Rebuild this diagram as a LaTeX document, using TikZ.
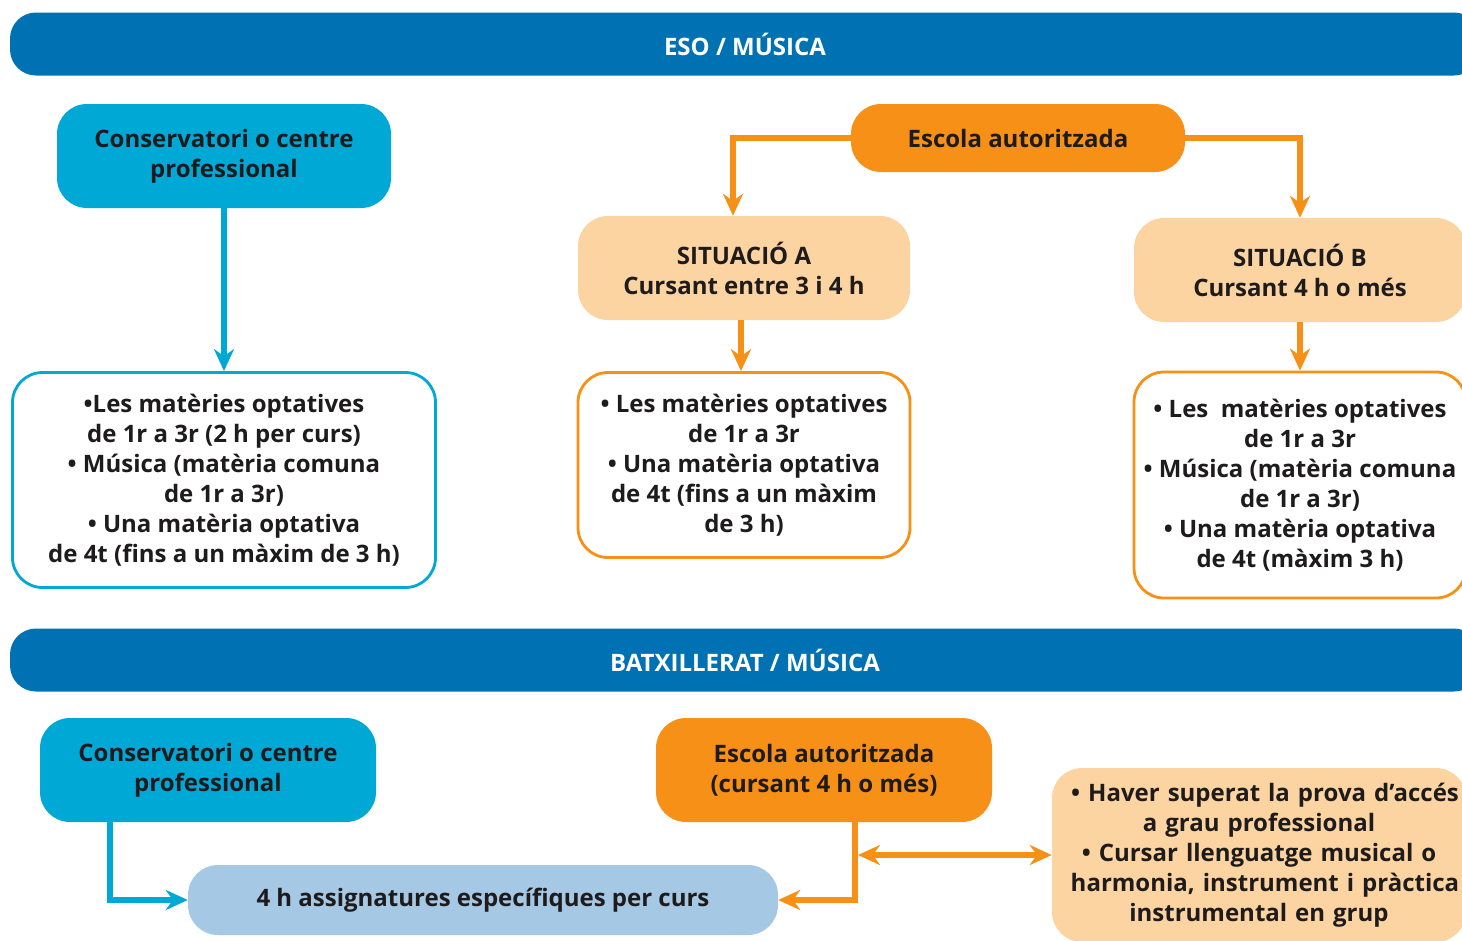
\documentclass[tikz,border=0pt]{standalone}
\usepackage{fontspec}
\setmainfont{Open Sans}
\usetikzlibrary{arrows.meta}
\usetikzlibrary{positioning}

\definecolor{bandblue}{RGB}{0,114,180}
\definecolor{consblue}{RGB}{0,168,214}
\definecolor{escorange}{RGB}{247,144,22}
\definecolor{peach}{RGB}{252,212,162}
\definecolor{paleblue}{RGB}{165,200,228}
\definecolor{ink}{RGB}{30,27,28}

\begin{document}
\begin{tikzpicture}[x=1pt,y=-1pt,
  font=\bfseries\fontsize{24}{30}\selectfont, text=ink,
  box/.style={rounded corners=30pt, align=center, inner sep=0pt},
  band/.style={box, fill=bandblue, text=white, rounded corners=26pt, minimum height=63pt, minimum width=1470pt},
  cons/.style={box, fill=consblue, minimum width=334pt, minimum height=104pt},
  esc/.style={box, fill=escorange},
  sit/.style={box, fill=peach, minimum width=332pt, minimum height=104pt},
  listbox/.style={box, fill=white, line width=2.8pt},
  tip/.style={Stealth[length=22pt,width=20pt]},
  cyline/.style={consblue, line width=5.5pt, -{Stealth[length=22pt,width=20pt]}},
  orline/.style={escorange, line width=5.5pt, -{Stealth[length=22pt,width=20pt]}}]
\clip (0,0) rectangle (1462,940);
\useasboundingbox (0,0) rectangle (1462,940);

% ESO
\node[band] (eso) at (745,44) {ESO / MÚSICA};
\node[cons] (cons1) at (224,156) {Conservatori o centre\\professional};
\node[esc, minimum width=334pt, minimum height=68pt] (esc1) at (1018,138) {Escola autoritzada};
\node[sit] (sitA) at (744,268) {SITUACIÓ A\\Cursant entre 3 i 4 h};
\node[sit] (sitB) at (1300,270) {SITUACIÓ B\\Cursant 4 h o més};

\node[listbox, draw=consblue, minimum width=423pt, minimum height=215pt] (list1) at (224,480)
  {•Les matèries optatives\\de 1r a 3r (2 h per curs)\\• Música (matèria comuna\\de 1r a 3r)\\• Una matèria optativa\\de 4t (fins a un màxim de 3 h)};
\node[listbox, draw=escorange, minimum width=332pt, minimum height=185pt] (listA) at (744,465)
  {• Les matèries optatives\\de 1r a 3r\\• Una matèria optativa\\de 4t (fins a un màxim\\de 3 h)};
\node[listbox, draw=escorange, minimum width=332pt, minimum height=226pt] (listB) at (1300,485)
  {• Les\ \ matèries optatives\\de 1r a 3r\\• Música (matèria comuna\\de 1r a 3r)\\• Una matèria optativa\\de 4t (màxim 3 h)};

\draw[cyline] (cons1) -- (list1);
\draw[orline] (esc1.west) -| ([xshift=-11pt]sitA.north);
\draw[orline] (esc1.east) -| (sitB.north);
\draw[orline] ([xshift=-3pt]sitA.south) -- ([xshift=-3pt]listA.north);
\draw[orline] (sitB) -- (listB);

% Batxillerat
\node[band] (batx) at (745,660) {BATXILLERAT / MÚSICA};
\node[cons, minimum width=336pt] (cons2) at (208,770) {Conservatori o centre\\professional};
\node[esc, minimum width=336pt, minimum height=104pt] (esc2) at (824,770) {Escola autoritzada\\(cursant 4 h o més)};
\node[box, fill=paleblue, minimum width=590pt, minimum height=70pt] (spec) at (483,900) {4 h assignatures específiques per curs};
\node[box, fill=peach, minimum width=414pt, minimum height=174pt, text width=414pt] (req) at (1259,855)
  {\hspace*{12pt}• Haver superat la prova d’accés\\a grau professional\\• Cursar llenguatge musical o\\\hspace*{12pt}harmonia, instrument i pràctica\\instrumental en grup};

\coordinate (dbl) at (858,855);
\draw[cyline] ([xshift=-98pt]cons2.south) |- (spec.west);
\draw[orline] ([xshift=31pt]esc2.south) |- (spec.east);
\draw[orline, {Stealth[length=22pt,width=20pt]}-{Stealth[length=22pt,width=20pt]}] (dbl) -- (req.west);
\end{tikzpicture}
\end{document}
